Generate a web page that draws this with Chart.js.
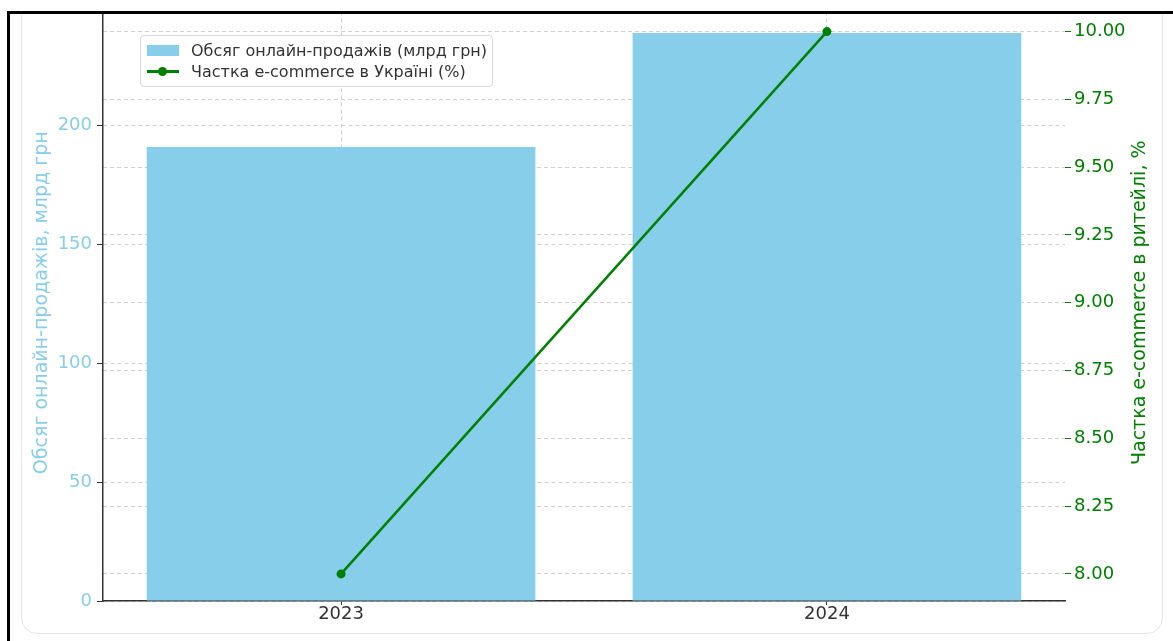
<!DOCTYPE html>
<html>
<head>
<meta charset="utf-8">
<script src="https://cdn.jsdelivr.net/npm/chart.js@4.4.1/dist/chart.umd.min.js"></script>
<style>
  html, body { margin: 0; padding: 0; background: #fff; }
  body { width: 1173px; height: 641px; position: relative; overflow: hidden; font-family: "DejaVu Sans", sans-serif; }
  #card { position: absolute; left: 21px; top: -20px; width: 1142px; height: 654px; border: 1.5px solid #e6e6e6; border-radius: 16px; box-sizing: border-box; }
  #wrap { position: absolute; left: 0; top: 0; width: 1173px; height: 641px; }
  #mask { position: absolute; left: 0; top: 0; width: 1173px; height: 11px; background: #fff; }
  #frame { position: absolute; left: 7px; top: 11px; right: 0; bottom: 0; border-top: 3px solid #000; border-left: 3px solid #000; }
  #legend { position: absolute; left: 140px; top: 35px; width: 353px; height: 52px; box-sizing: border-box;
            background: rgba(255,255,255,0.9); border: 1px solid #d9d9d9; border-radius: 4px;
            font-size: 16px; color: #333; padding: 4px 0 0 6px; }
  .row { display: flex; align-items: center; height: 21px; white-space: nowrap; }
  .patch { width: 32px; height: 11px; background: #87ceeb; margin-right: 12px; }
  .lineKey { position: relative; width: 32px; height: 11px; margin-right: 12px; }
  .lineKey::before { content: ''; position: absolute; left: 0; right: 0; top: 4px; height: 2.5px; background: #008000; }
  .lineKey::after { content: ''; position: absolute; left: 11px; top: 1px; width: 9px; height: 9px; border-radius: 50%; background: #008000; }
</style>
</head>
<body>
<div id="card"></div>
<div id="wrap"><canvas id="chart"></canvas></div>
<div id="legend">
  <div class="row"><span class="patch"></span><span>Обсяг онлайн-продажів (млрд грн)</span></div>
  <div class="row"><span class="lineKey"></span><span>Частка e-commerce в Україні (%)</span></div>
</div>
<div id="mask"></div>
<div id="frame"></div>
<script>
'use strict';

// ─── Data ────────────────────────────────────────────────────────────────────
const years = ['2023', '2024'];
const salesBn = [191, 239];          // млрд грн
const ecomShare = [8.0, 10.0];       // %

const salesTicks = [0, 50, 100, 150, 200, 250];
const shareTicks = [8.0, 8.25, 8.5, 8.75, 9.0, 9.25, 9.5, 9.75, 10.0];
const salesRange = [0, 251];
const shareRange = [7.9, 10.1];
const xRange = [-0.49, 1.49];

const rightTitle = 'Частка e-commerce в ритейлі, %';

// ─── Colors ──────────────────────────────────────────────────────────────────
const SKY = '#87ceeb';
const GREEN = '#008000';
const GRID = 'rgba(190,190,190,0.7)';
const DARK = '#333';
const FONT = '"DejaVu Sans", sans-serif';

const toPoints = arr => arr.map((v, i) => ({ x: i, y: v }));
const setTicks = list => s => { s.ticks = list.map(v => ({ value: v })); };
const noEdgePad = w => s => {
  if (w) s.width = w;
  s.paddingTop = 0;
  s.paddingBottom = 0;
};

// matplotlib-style right label, reading bottom-to-top
const rightTitlePlugin = {
  id: 'rightTitle',
  afterDraw(chart) {
    const { ctx, chartArea } = chart;
    ctx.save();
    ctx.translate(1140, (chartArea.top + chartArea.bottom) / 2);
    ctx.rotate(-Math.PI / 2);
    ctx.font = '19px ' + FONT;
    ctx.fillStyle = GREEN;
    ctx.textAlign = 'center';
    ctx.textBaseline = 'middle';
    ctx.fillText(rightTitle, 0, 0);
    ctx.restore();
  }
};

new Chart(document.getElementById('chart'), {
  type: 'bar',
  data: {
    datasets: [
      {
        type: 'line',
        label: 'Частка e-commerce в Україні (%)',
        data: toPoints(ecomShare),
        yAxisID: 'y1',
        borderColor: GREEN,
        backgroundColor: GREEN,
        borderWidth: 2.5,
        pointRadius: 4.5,
        pointBackgroundColor: GREEN,
        pointBorderWidth: 0,
        tension: 0,
        order: 0,
      },
      {
        label: 'Обсяг онлайн-продажів (млрд грн)',
        data: toPoints(salesBn),
        yAxisID: 'y',
        backgroundColor: SKY,
        borderWidth: 0,
        categoryPercentage: 0.8,
        barPercentage: 1,
        order: 1,
      },
    ]
  },
  options: {
    responsive: true,
    maintainAspectRatio: false,
    animation: false,
    layout: { padding: { left: 28, right: 19, top: 3, bottom: 10 } },
    plugins: {
      legend: { display: false },
      tooltip: { enabled: false },
    },
    scales: {
      x: {
        type: 'linear',
        offset: false,
        min: xRange[0],
        max: xRange[1],
        afterBuildTicks: setTicks([0, 1]),
        afterFit: s => { s.height = 30; s.paddingLeft = 0; s.paddingRight = 0; },
        ticks: {
          padding: -1,
          color: DARK,
          font: { family: FONT, size: 18 },
          callback: v => years[v] ?? '',
        },
        grid: {
          color: GRID,
          tickColor: DARK,
          tickLength: 4,
          tickBorderDash: [],
          offset: false,
        },
        border: { color: DARK, width: 1.5, dash: [4, 3] },
      },
      y: {
        position: 'left',
        bounds: 'data',
        min: salesRange[0],
        max: salesRange[1],
        afterBuildTicks: setTicks(salesTicks),
        afterFit: noEdgePad(75),
        ticks: {
          padding: 5,
          color: SKY,
          font: { family: FONT, size: 18 },
        },
        grid: {
          color: GRID,
          tickColor: DARK,
          tickLength: 6,
          tickBorderDash: [],
        },
        border: { color: DARK, width: 1.5, dash: [4, 3] },
        title: {
          display: true,
          text: 'Обсяг онлайн-продажів, млрд грн',
          color: SKY,
          font: { family: FONT, size: 19 },
          padding: { top: 3, bottom: 3 },
        },
      },
      y1: {
        position: 'right',
        bounds: 'data',
        min: shareRange[0],
        max: shareRange[1],
        afterBuildTicks: setTicks(shareTicks),
        afterFit: noEdgePad(89),
        ticks: {
          padding: 3,
          color: GREEN,
          font: { family: FONT, size: 18 },
          callback: v => Number(v).toFixed(2),
        },
        grid: {
          color: GRID,
          tickColor: GREEN,
          tickLength: 6,
          tickBorderDash: [],
        },
        border: { display: false, dash: [4, 3] },
      },
    }
  },
  plugins: [rightTitlePlugin]
});
</script>
</body>
</html>
